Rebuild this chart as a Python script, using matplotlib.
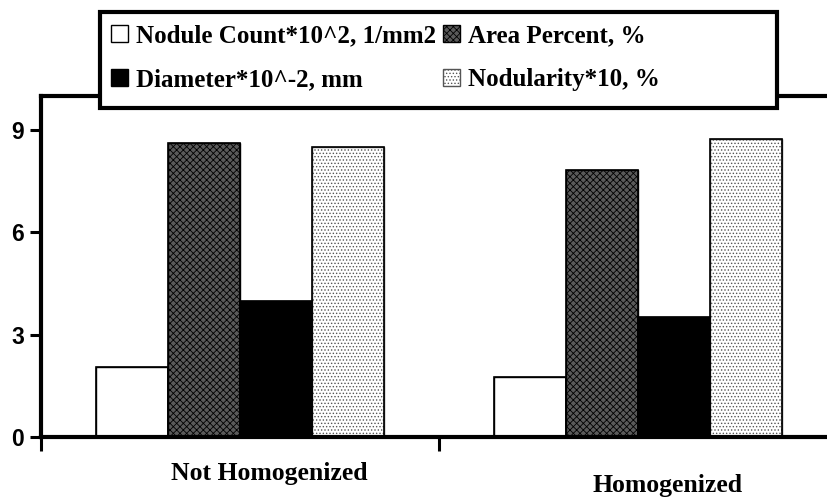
import matplotlib.pyplot as plt
import matplotlib.transforms as mtransforms
from matplotlib.patches import Rectangle
import numpy as np

# data
categories = ["Not Homogenized", "Homogenized"]
series_names = ["Nodule Count*10^2, 1/mm2", "Area Percent, %",
                "Diameter*10^-2, mm", "Nodularity*10, %"]
nodule_count = [2.05, 1.75]
area_percent = [8.62, 7.82]
diameter = [4.0, 3.53]
nodularity = [8.5, 8.74]

plt.rcParams['hatch.linewidth'] = 0.6

fig = plt.figure(figsize=(8.28, 5.01), dpi=100)
ax = fig.add_axes([41 / 828, 1 - 437 / 501, 796 / 828, (437 - 96) / 501])

x = np.arange(len(categories))
w = 0.181
styles = [
    dict(facecolor="white", edgecolor="black", hatch=None),
    dict(facecolor="#5a5a5a", edgecolor="black", hatch="xxxxx"),
    dict(facecolor="black", edgecolor="black", hatch=None),
    dict(facecolor="white", edgecolor="#555555", hatch="....."),
]
values = [nodule_count, area_percent, diameter, nodularity]

handles = []
for i, (vals, st) in enumerate(zip(values, styles)):
    b = ax.bar(x + (i - 1.5) * w, vals, w, facecolor=st["facecolor"],
               edgecolor=st["edgecolor"], hatch=st["hatch"], linewidth=1.0,
               label=series_names[i], zorder=2)
    # black outline over the hatched bars
    ax.bar(x + (i - 1.5) * w, vals, w, facecolor="none", edgecolor="black",
           linewidth=1.2, zorder=3)
    handles.append(b)

ax.set_xlim(-0.5, 1.5)
ax.set_ylim(0, 10)
ax.set_yticks([0, 3, 6, 9])
ax.tick_params(axis="y", direction="out", length=8, width=2.2,
               labelsize=16.5, pad=4)
for lab in ax.get_yticklabels():
    lab.set_fontweight("bold")
    lab.set_family("Liberation Sans")

ax.set_xticks(x)
ax.set_xticklabels(categories, fontsize=18.5, fontweight="bold",
                   family="Liberation Serif")
ax.tick_params(axis="x", which="major", length=0, pad=18)
ax.set_xticks([-0.5, 0.5, 1.5], minor=True)
ax.tick_params(axis="x", which="minor", direction="out", length=10, width=2.2)

# labels sit right of the bar groups, the second one also lower
offsets = [(29, 0), (30, -12)]
for lab, (dx, dy) in zip(ax.get_xticklabels(), offsets):
    lab.set_transform(lab.get_transform() +
                      mtransforms.ScaledTranslation(dx / 100, dy / 100,
                                                    fig.dpi_scale_trans))

for s in ["left", "bottom", "top", "right"]:
    ax.spines[s].set_linewidth(3)

# legend box is wider than its entries, so draw it separately
box = Rectangle((100 / 828, 1 - 108 / 501), 677 / 828, 96 / 501,
                transform=fig.transFigure, facecolor="white",
                edgecolor="black", linewidth=3, zorder=5)
fig.patches.append(box)

order = [handles[0], handles[2], handles[1], handles[3]]
leg = fig.legend(order, [h.get_label() for h in order], ncol=2,
                 loc="upper left", bbox_to_anchor=(111 / 828, 1 - 24 / 501),
                 prop=dict(family="Liberation Serif", weight="bold", size=18),
                 frameon=False, handlelength=0.68, handleheight=0.7,
                 handletextpad=0.32, columnspacing=0.28, labelspacing=0.85,
                 borderpad=0, borderaxespad=0)
leg.set_zorder(6)

fig.savefig("out.png", dpi=100)
